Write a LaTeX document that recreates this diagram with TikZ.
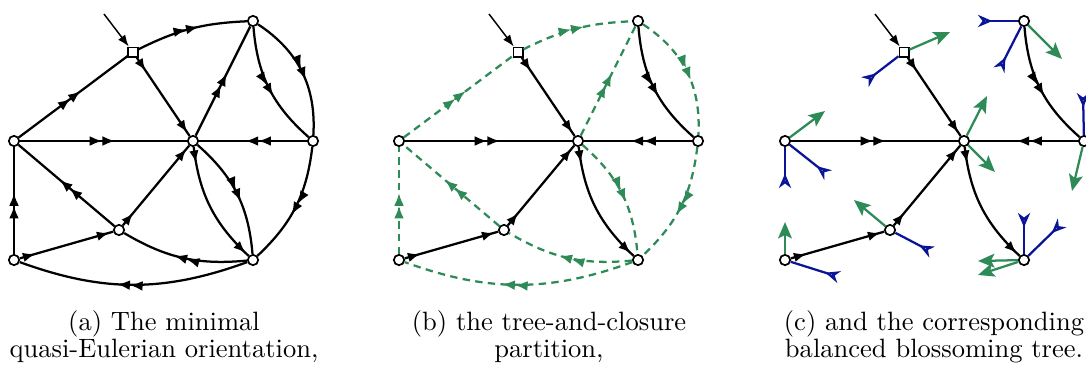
\documentclass[tikz,border=0pt]{standalone}
\usetikzlibrary{arrows.meta,decorations.markings}
\definecolor{gr}{RGB}{46,139,87}
\definecolor{bl}{RGB}{10,20,150}
\tikzset{
  vx/.style={circle,draw,fill=white,line width=0.65pt,inner sep=0pt,minimum size=3.9pt},
  sq/.style={rectangle,draw,fill=white,line width=0.65pt,inner sep=0pt,minimum size=3.5pt},
  edge/.style={line width=0.85pt},
  mid/.style={postaction={decorate},decoration={markings,mark=at position 0.57 with {\arrow{Latex[length=4.8pt,width=3.7pt] Latex[length=4.8pt,width=3.7pt]}}}},
  ends/.style={postaction={decorate},decoration={markings,mark=at position 6pt with {\arrow{Latex[length=4.6pt,width=3.6pt]}},mark=at position -1.6pt with {\arrow{Latex[length=4.6pt,width=3.6pt]}}}},
  clo/.style={gr,line width=0.85pt,dash pattern=on 2.8pt off 2pt},
  rootarr/.style={line width=0.55pt,-{Latex[length=4.4pt,width=3.3pt]}},
  leaf/.style={gr,line width=0.85pt,-{Stealth[length=6.2pt,width=5.2pt,inset=1.3pt]}},
  bud/.style={bl,line width=0.85pt,-{Stealth[open,reversed,length=5.4pt,width=4.6pt,inset=1.7pt]}},
  captext/.style={anchor=base,inner sep=0pt}
}
\newcommand\mkpanelnodes[1]{%
  \node[sq] (#1R) at (133,52) {};
  \node[vx] (#1T) at (253,21) {};
  \node[vx] (#1L) at (14,141) {};
  \node[vx] (#1C) at (193,141) {};
  \node[vx] (#1Q) at (313,141) {};
  \node[vx] (#1M) at (119,230) {};
  \node[vx] (#1B) at (14,260) {};
  \node[vx] (#1D) at (253,260) {};
  \coordinate (#1S) at (104,14);
}
\begin{document}
\begin{tikzpicture}[x=0.377pt,y=-0.377pt]
\useasboundingbox (0,0) rectangle (1086,368);
% ---------- panel (a)
\mkpanelnodes{a}
\draw[edge,mid] (aL) -- (aR);
\draw[edge,mid] (aR) to[bend left=12] (aT);
\draw[edge,ends] (aR) -- (aC);
\draw[edge,mid] (aC) -- (aT);
\draw[edge,mid] (aT) to[bend right=22] (aQ);
\draw[edge,mid] (aT) to[bend left=30] (aQ);
\draw[edge,mid] (aL) -- (aC);
\draw[edge,mid] (aQ) -- (aC);
\draw[edge,mid] (aQ) to[bend left=20] (aD);
\draw[edge,mid] (aC) to[bend left=22] (aD);
\draw[edge,ends] (aC) to[bend right=20] (aD);
\draw[edge,ends] (aM) -- (aC);
\draw[edge,mid] (aM) -- (aL);
\draw[edge,mid] (aB) -- (aL);
\draw[edge,ends] (aB) -- (aM);
\draw[edge,mid] (aD) to[bend left=18] (aM);
\draw[edge,mid] (aD) to[bend left=20] (aB);
\draw[rootarr] (aS) -- (aR);
% ---------- panel (b)
\begin{scope}[shift={(385,0)}]
\mkpanelnodes{b}
\draw[clo,mid] (bL) -- (bR);
\draw[clo,mid] (bR) to[bend left=12] (bT);
\draw[edge,ends] (bR) -- (bC);
\draw[clo,mid] (bC) -- (bT);
\draw[edge,mid] (bT) to[bend right=22] (bQ);
\draw[clo,mid] (bT) to[bend left=30] (bQ);
\draw[edge,mid] (bL) -- (bC);
\draw[edge,mid] (bQ) -- (bC);
\draw[clo,mid] (bQ) to[bend left=20] (bD);
\draw[clo,mid] (bC) to[bend left=22] (bD);
\draw[edge,ends] (bC) to[bend right=20] (bD);
\draw[edge,ends] (bM) -- (bC);
\draw[clo,mid] (bM) -- (bL);
\draw[clo,mid] (bB) -- (bL);
\draw[edge,ends] (bB) -- (bM);
\draw[clo,mid] (bD) to[bend left=18] (bM);
\draw[clo,mid] (bD) to[bend left=20] (bB);
\draw[rootarr] (bS) -- (bR);
\end{scope}
% ---------- panel (c)
\begin{scope}[shift={(771,0)}]
\mkpanelnodes{c}
\draw[edge,ends] (cR) -- (cC);
\draw[edge,mid] (cT) to[bend right=22] (cQ);
\draw[edge,mid] (cL) -- (cC);
\draw[edge,mid] (cQ) -- (cC);
\draw[edge,ends] (cC) to[bend right=20] (cD);
\draw[edge,ends] (cM) -- (cC);
\draw[edge,ends] (cB) -- (cM);
\draw[rootarr] (cS) -- (cR);
\end{scope}
% leaves and buds of panel (c)
\coordinate (lR) at (950,32);   \coordinate (bR1) at (865,82);
\coordinate (bT1) at (978,21);  \coordinate (bT2) at (999,70);  \coordinate (lT) at (1062,59);
\coordinate (lL) at (825,111);  \coordinate (bL1) at (785,188); \coordinate (bL2) at (828,175);
\coordinate (lC1) at (987,96);  \coordinate (lC2) at (995,172);
\coordinate (bQ1) at (1083,93); \coordinate (lQ) at (1072,191);
\coordinate (lM) at (854,200);  \coordinate (bM1) at (932,252);
\coordinate (lB) at (785,222);  \coordinate (bB1) at (839,277);
\coordinate (bD1) at (1024,213); \coordinate (bD2) at (1062,223);
\coordinate (lD1) at (978,261); \coordinate (lD2) at (978,275);
\draw[leaf] (cR) -- (lR);   \draw[bud] (cR) -- (bR1);
\draw[bud] (cT) -- (bT1);   \draw[bud] (cT) -- (bT2);   \draw[leaf] (cT) -- (lT);
\draw[leaf] (cL) -- (lL);   \draw[bud] (cL) -- (bL1);   \draw[bud] (cL) -- (bL2);
\draw[leaf] (cC) -- (lC1);  \draw[leaf] (cC) -- (lC2);
\draw[bud] (cQ) -- (bQ1);   \draw[leaf] (cQ) -- (lQ);
\draw[leaf] (cM) -- (lM);   \draw[bud] (cM) -- (bM1);
\draw[leaf] (cB) -- (lB);   \draw[bud] (cB) -- (bB1);
\draw[bud] (cD) -- (bD1);   \draw[bud] (cD) -- (bD2);
\draw[leaf] (cD) -- (lD1);  \draw[leaf] (cD) -- (lD2);
% ---------- captions
\node[captext] (ca1) at (164,330) {(a) The minimal};
\node[captext] (ca2) at (164,357) {quasi-Eulerian orientation,};
\node[captext] (cb1) at (549,330) {(b) the tree-and-closure};
\node[captext] (cb2) at (549,357) {partition,};
\node[captext] (cc1) at (934,330) {(c) and the corresponding};
\node[captext] (cc2) at (934,357) {balanced blossoming tree.};
\end{tikzpicture}
\end{document}
